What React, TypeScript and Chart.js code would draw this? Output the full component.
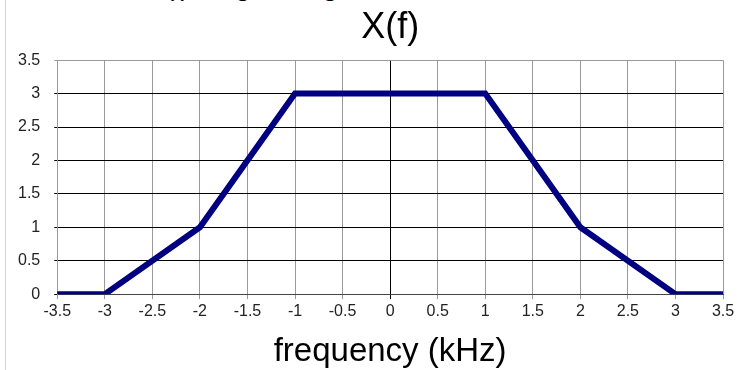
import React, { useEffect, useRef } from "react";
import { Chart, registerables } from "chart.js";

Chart.register(...registerables);

const freq = [-3.5, -3, -2, -1, 1, 2, 3, 3.5];
const magnitude = [0, 0, 1, 3, 3, 1, 0, 0];
const xTickValues = [-3.5, -3, -2.5, -2, -1.5, -1, -0.5, 0, 0.5, 1, 1.5, 2, 2.5, 3, 3.5];
const yTickValues = [0, 0.5, 1, 1.5, 2, 2.5, 3, 3.5];
const chartTitle = "X(f)";
const xAxisTitle = "frequency (kHz)";
const cutHeading = "(i) Original signal";

const FONT = "'Liberation Sans', Arial, sans-serif";

export default function App() {
  const canvasRef = useRef<HTMLCanvasElement | null>(null);

  useEffect(() => {
    const canvas = canvasRef.current;
    if (!canvas) return;
    const points = freq.map((f, i) => ({ x: f, y: magnitude[i] }));
    const chart = new Chart(canvas, {
      type: "scatter",
      data: {
        datasets: [
          {
            data: points,
            showLine: true,
            borderColor: "#000080",
            backgroundColor: "#000080",
            borderWidth: 6,
            pointRadius: 0,
            pointHoverRadius: 0,
            tension: 0,
            borderJoinStyle: "miter",
            borderCapStyle: "square",
          },
        ],
      },
      options: {
        animation: false,
        responsive: false,
        devicePixelRatio: 1,
        layout: { padding: { top: 0, left: 4, right: 15, bottom: 0 } },
        plugins: {
          legend: { display: false },
          tooltip: { enabled: false },
          title: {
            display: true,
            text: chartTitle,
            fullSize: false,
            color: "#000",
            font: { family: FONT, size: 36, weight: "normal", lineHeight: 1.2 },
            padding: { top: 6, bottom: 11 },
          },
        },
        scales: {
          x: {
            type: "linear",
            min: -3.5,
            max: 3.5,
            afterBuildTicks: (scale: any) => {
              scale.ticks = xTickValues.map((v) => ({ value: v }));
            },
            ticks: {
              color: "#222",
              font: { family: FONT, size: 16 },
              padding: 3,
              maxRotation: 0,
              autoSkip: false,
              callback: (v: any) => String(v),
            },
            grid: {
              color: (ctx: any) => (ctx.tick && ctx.tick.value === 0 ? "#000" : "#999"),
              lineWidth: 1,
              tickLength: 5,
              drawTicks: true,
            },
            border: { display: true, color: "#444", width: 1 },
            title: {
              display: true,
              text: xAxisTitle,
              color: "#000",
              font: { family: FONT, size: 33, weight: "normal", lineHeight: 1.05 },
              padding: { top: 10, bottom: 1 },
            },
          },
          y: {
            type: "linear",
            min: 0,
            max: 3.5,
            afterBuildTicks: (scale: any) => {
              scale.ticks = yTickValues.map((v) => ({ value: v }));
            },
            ticks: {
              color: "#222",
              font: { family: FONT, size: 16 },
              padding: 14,
              autoSkip: false,
              callback: (v: any) => String(v),
            },
            grid: {
              color: (ctx: any) => (ctx.tick && ctx.tick.value === 3.5 ? "#999" : "#000"),
              lineWidth: 1,
              tickLength: 3,
              drawTicks: true,
            },
            border: { display: true, color: "#999", width: 1 },
          },
        },
      },
    });
    return () => chart.destroy();
  }, []);

  return (
    <div
      style={{
        position: "absolute",
        left: 0,
        top: 0,
        width: 738,
        height: 370,
        background: "#fff",
        overflow: "hidden",
      }}
    >
      <div
        style={{
          position: "absolute",
          left: 5,
          top: 0,
          width: 1,
          height: 370,
          background: "#d4d4d4",
        }}
      />
      <div
        style={{
          position: "absolute",
          left: 165,
          top: -28,
          fontFamily: FONT,
          fontSize: 28,
          lineHeight: "28px",
          color: "#000",
          whiteSpace: "nowrap",
        }}
      >
        {cutHeading}
      </div>
      <canvas
        ref={canvasRef}
        width={738}
        height={370}
        style={{ position: "absolute", left: 0, top: 0, width: 738, height: 370 }}
      />
    </div>
  );
}
